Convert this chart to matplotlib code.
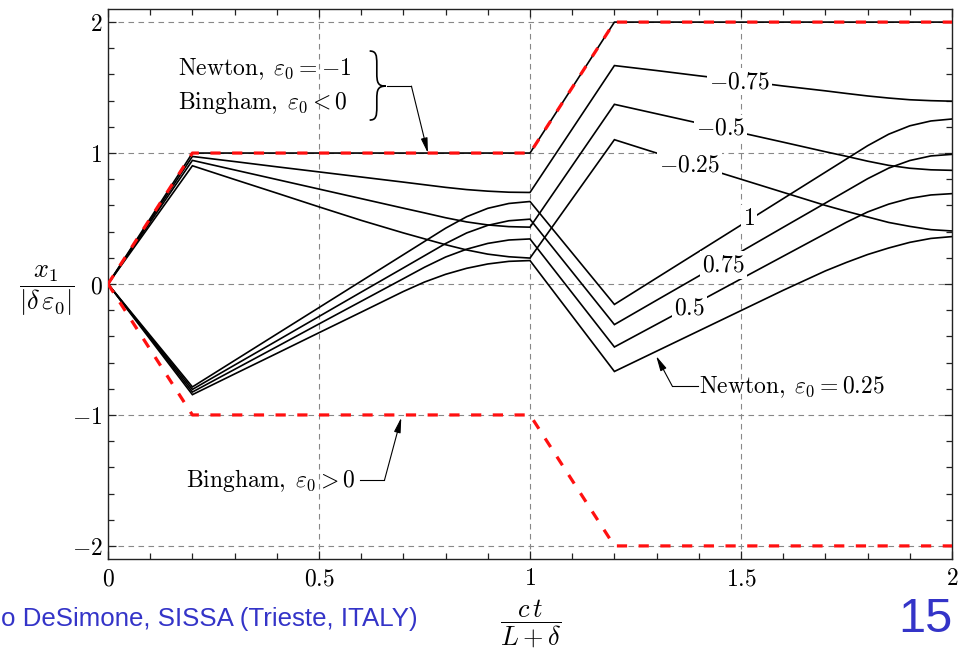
import matplotlib
matplotlib.use("Agg")
import matplotlib.pyplot as plt
from matplotlib.path import Path
from matplotlib.patches import PathPatch
from matplotlib.ticker import MultipleLocator

plt.rcParams['mathtext.fontset'] = 'cm'
plt.rcParams['font.family'] = ['DejaVu Serif']

# ---------------- data ----------------
t = [0.0, 0.2, 0.3, 0.4, 0.5, 0.6, 0.7, 0.75, 0.8, 0.85, 0.9, 0.95, 1.0,
     1.2, 1.3, 1.4, 1.5, 1.6, 1.7, 1.75, 1.8, 1.85, 1.9, 1.95, 2.0]

newton_m075 = [0, 0.974, 0.935, 0.895, 0.856, 0.817, 0.778, 0.758, 0.738, 0.721, 0.709, 0.701, 0.699,
               1.668, 1.630, 1.590, 1.553, 1.512, 1.475, 1.455, 1.436, 1.420, 1.407, 1.400, 1.396]
newton_m050 = [0, 0.944, 0.871, 0.798, 0.725, 0.652, 0.579, 0.543, 0.506, 0.474, 0.451, 0.438, 0.434,
               1.372, 1.300, 1.228, 1.155, 1.083, 1.010, 0.975, 0.938, 0.906, 0.884, 0.872, 0.868]
newton_m025 = [0, 0.903, 0.798, 0.694, 0.589, 0.486, 0.390, 0.345, 0.300, 0.260, 0.228, 0.208, 0.198,
               1.102, 1.000, 0.900, 0.800, 0.700, 0.600, 0.555, 0.512, 0.470, 0.440, 0.415, 0.405]
newton_p100 = [0, -0.786, -0.584, -0.382, -0.180, 0.022, 0.224, 0.325, 0.426, 0.514, 0.578, 0.615, 0.630,
               -0.156, 0.046, 0.248, 0.450, 0.652, 0.854, 0.955, 1.056, 1.144, 1.208, 1.245, 1.260]
newton_p075 = [0, -0.805, -0.619, -0.434, -0.248, -0.062, 0.123, 0.216, 0.309, 0.390, 0.448, 0.483, 0.495,
               -0.310, -0.124, 0.061, 0.247, 0.433, 0.618, 0.711, 0.804, 0.885, 0.943, 0.978, 0.990]
newton_p050 = [0, -0.825, -0.652, -0.479, -0.305, -0.132, 0.041, 0.128, 0.206, 0.266, 0.310, 0.336, 0.344,
               -0.481, -0.308, -0.135, 0.039, 0.212, 0.385, 0.472, 0.550, 0.610, 0.654, 0.680, 0.690]
newton_p025 = [0, -0.845, -0.687, -0.530, -0.372, -0.215, -0.057, 0.015, 0.074, 0.120, 0.153, 0.173, 0.179,
               -0.668, -0.513, -0.358, -0.203, -0.048, 0.100, 0.165, 0.225, 0.275, 0.318, 0.348, 0.362]

t_kink = [0.0, 0.2, 1.0, 1.2, 2.0]
newton_m100 = [0, 1, 1, 2, 2]
bingham_neg = [0, 1, 1, 2, 2]
bingham_pos = [0, -1, -1, -2, -2]

xticks = [0, 0.5, 1, 1.5, 2]
xticklabels = [r'$0$', r'$0.5$', r'$1$', r'$1.5$', r'$2$']
yticks = [-2, -1, 0, 1, 2]
yticklabels = [r'$-2$', r'$-1$', r'$0$', r'$1$', r'$2$']

# curve labels (text, x, y)
curve_labels = [(r'$-0.75$', 1.496, 1.545), (r'$-0.5$', 1.452, 1.188),
                (r'$-0.25$', 1.378, 0.907), (r'$1$', 1.519, 0.497),
                (r'$0.75$', 1.458, 0.145), (r'$0.5$', 1.378, -0.186)]

# ---------------- figure ----------------
fig = plt.figure(figsize=(9.65, 6.5), dpi=100)
ax = fig.add_axes([108/965, 1-559/650, 844/965, 550/650])
ax.set_xlim(0, 2)
ax.set_ylim(-2.1, 2.1)

ax.set_axisbelow(True)
ax.grid(True, which='major', ls=(0, (5, 4)), color='#888888', lw=0.8)

black_lw = 1.2
for ys in [newton_m075, newton_m050, newton_m025, newton_p100, newton_p075, newton_p050, newton_p025]:
    ax.plot(t, ys, color='black', lw=black_lw, zorder=2, solid_joinstyle='miter')
ax.plot(t_kink, newton_m100, color='black', lw=black_lw, zorder=2)

ax.plot(t_kink, bingham_neg, color='#ff1010', lw=2.3, ls=(0, (3.2, 3.6)), zorder=3)
ax.plot(t_kink, bingham_pos, color='#ff1010', lw=2.3, ls=(0, (3.2, 3.6)), zorder=3)

for s, x, y in curve_labels:
    ax.text(x, y, s, fontsize=17, ha='center', va='center', zorder=5,
            bbox=dict(facecolor='white', edgecolor='none', pad=1.5))

# annotations
ax.text(0.166, 1.595, r'$\mathrm{Newton,}\;\varepsilon_0 = -1$', fontsize=17, ha='left', va='baseline', zorder=5)
ax.text(0.166, 1.336, r'$\mathrm{Bingham,}\;\varepsilon_0 < 0$', fontsize=17, ha='left', va='baseline', zorder=5)
ax.text(0.185, -1.552, r'$\mathrm{Bingham,}\;\varepsilon_0 > 0$', fontsize=17, ha='left', va='baseline', zorder=5)
ax.text(1.401, -0.835, r'$\mathrm{Newton,}\;\varepsilon_0 = 0.25$', fontsize=17, ha='left', va='baseline', zorder=5)

# brace
x0, xm, xt = 0.620, 0.637, 0.658
ytop, ymid, ybot = 1.779, 1.511, 1.252
a = 0.10
verts = [(x0, ytop), (x0 + 0.9*(xm-x0), ytop), (xm, ytop - 0.3*a), (xm, ytop - a),
         (xm, ymid + a),
         (xm, ymid + 0.3*a), (xm + 0.1*(xt-xm), ymid), (xt, ymid),
         (xm + 0.1*(xt-xm), ymid), (xm, ymid - 0.3*a), (xm, ymid - a),
         (xm, ybot + a),
         (xm, ybot + 0.3*a), (x0 + 0.9*(xm-x0), ybot), (x0, ybot)]
codes = [Path.MOVETO, Path.CURVE4, Path.CURVE4, Path.CURVE4,
         Path.LINETO,
         Path.CURVE4, Path.CURVE4, Path.CURVE4,
         Path.CURVE4, Path.CURVE4, Path.CURVE4,
         Path.LINETO,
         Path.CURVE4, Path.CURVE4, Path.CURVE4]
ax.add_patch(PathPatch(Path(verts, codes), fill=False, lw=1.2, color='black', zorder=5))

arrow_kw = dict(arrowstyle='-|>,head_length=0.9,head_width=0.2', color='black', lw=0.8,
                shrinkA=0, shrinkB=0)
# top annotation arrow
ax.plot([0.660, 0.719], [1.511, 1.511], color='black', lw=0.8, zorder=5)
ax.annotate('', xy=(0.758, 1.0), xytext=(0.719, 1.511), arrowprops=arrow_kw, zorder=5)
# bingham positive arrow
ax.plot([0.596, 0.655], [-1.50, -1.50], color='black', lw=0.8, zorder=5)
ax.annotate('', xy=(0.695, -1.02), xytext=(0.655, -1.50), arrowprops=arrow_kw, zorder=5)
# newton 0.25 arrow
ax.plot([1.398, 1.337], [-0.779, -0.779], color='black', lw=0.8, zorder=5)
ax.annotate('', xy=(1.299, -0.55), xytext=(1.337, -0.779), arrowprops=arrow_kw, zorder=5)

# ticks
ax.set_xticks(xticks, labels=xticklabels)
ax.set_yticks(yticks, labels=yticklabels)
ax.xaxis.set_minor_locator(MultipleLocator(0.1))
ax.yaxis.set_minor_locator(MultipleLocator(0.2))
ax.tick_params(which='both', direction='in', top=True, right=True, width=0.9, color='#222222')
ax.tick_params(which='major', length=6, labelsize=17)
ax.tick_params(axis='x', which='major', pad=6)
ax.tick_params(axis='y', which='major', pad=4)
ax.tick_params(which='minor', length=4)
for sp in ax.spines.values():
    sp.set_linewidth(1.0)
    sp.set_color('#222222')

# axis labels
fig.text(47/965, 1-291/650, r'$\dfrac{x_1}{|\delta\,\varepsilon_0|}$', fontsize=19, ha='center', va='center')
fig.text(531/965, 1-623/650, r'$\dfrac{c\,t}{L+\delta}$', fontsize=19, ha='center', va='center')

# footer
fig.text(1/965, 1-619/650, 'o DeSimone, SISSA (Trieste, ITALY)', fontsize=18.6,
         family='Liberation Sans', color='#3434c8', ha='left', va='center')
fig.text(952/965, 1-619/650, '15', fontsize=35, family='Liberation Sans', color='#3434c8',
         ha='right', va='center')

fig.savefig('out.png', dpi=100)
